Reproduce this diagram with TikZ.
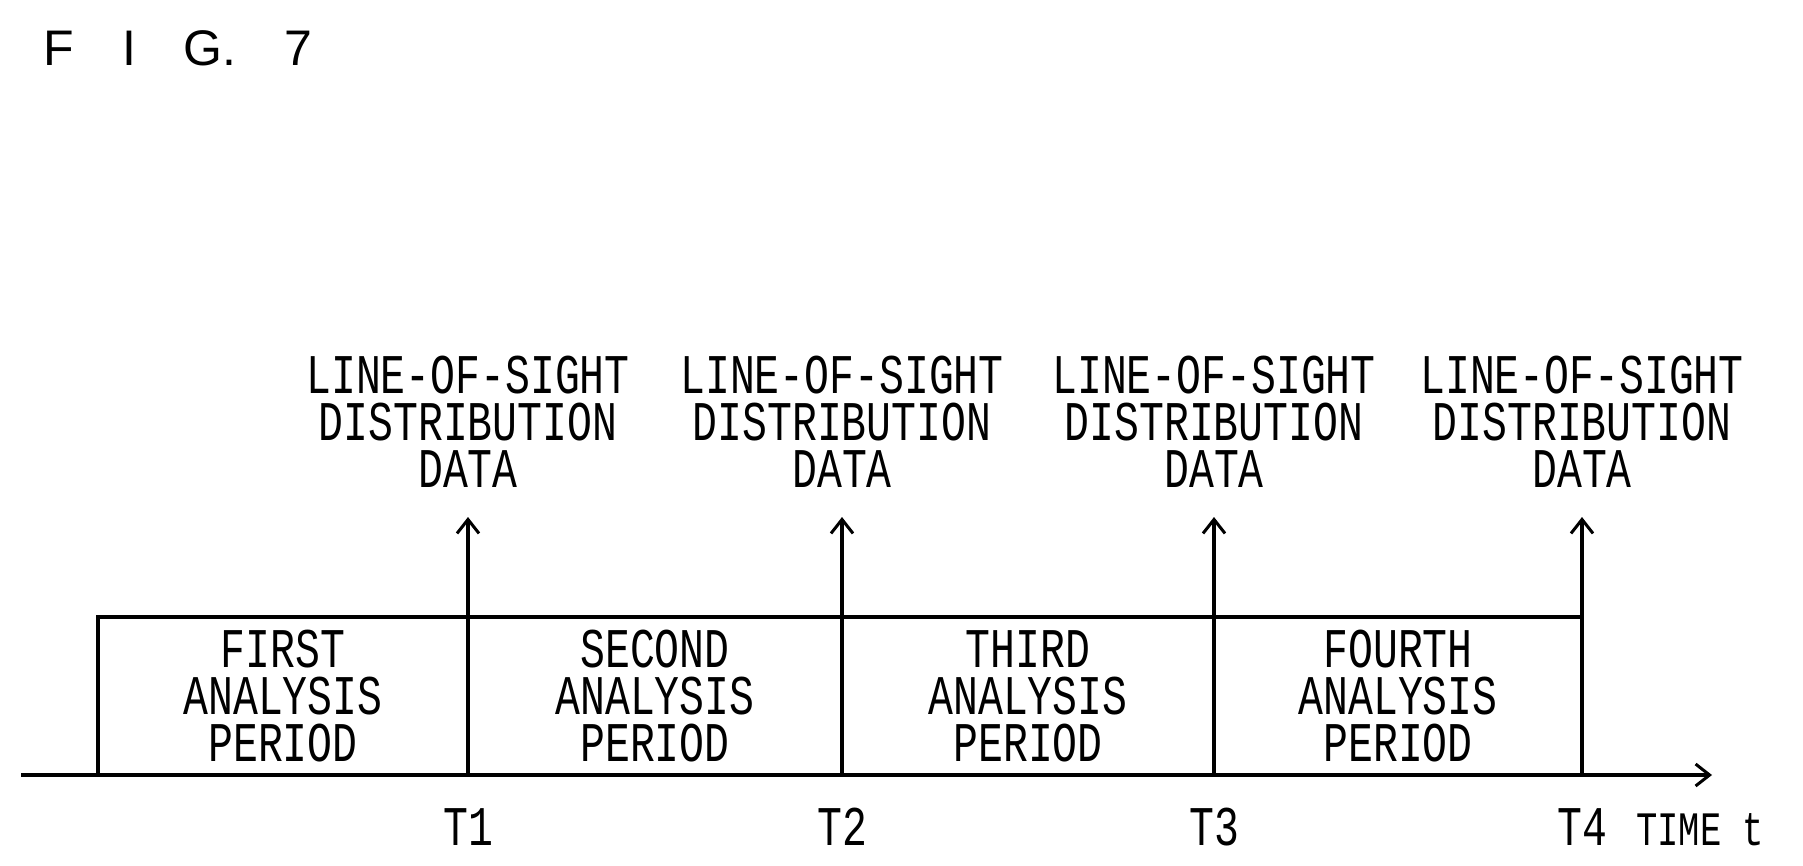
\documentclass[tikz,border=0pt]{standalone}
\usepackage{fontspec}
\usetikzlibrary{arrows.meta}
\newfontfamily\lbl[FakeStretch=0.74]{Liberation Mono}
\newfontfamily\figf{Liberation Sans}
\begin{document}
\begin{tikzpicture}[x=1pt,y=-1pt,
  ln/.style={line width=4pt},
  arr/.style={ln,-{Straight Barb[length=14pt,width=22pt,line width=3pt]}},
  txt/.style={font=\lbl\fontsize{56}{47}\selectfont,align=center,inner sep=0pt}]
\useasboundingbox (0,0) rectangle (1803,865);
\node[font=\figf\fontsize{50}{50}\selectfont,anchor=west] (fig) at (40,48) {F\hspace{48pt}I\hspace{48pt}G.\hspace{48pt}7};
\coordinate (a0) at (21,775);
\coordinate (aend) at (1712,775);
\draw[arr] (a0) -- (aend);
\coordinate (bl) at (98,775);
\coordinate (tl) at (98,617);
\coordinate (tr) at (1580,617);
\draw[ln] (bl) -- (tl) -- (tr);
\foreach \i/\x in {1/468,2/842,3/1214,4/1582}{
  \coordinate (b\i) at (\x,775);
  \coordinate (h\i) at (\x,517);
  \draw[arr] (b\i) -- (h\i);
  \node[txt,anchor=north] (d\i) at (\x,356) {LINE-OF-SIGHT\\DISTRIBUTION\\DATA};
  \node[txt,anchor=base] (t\i) at (\x,845) {T\i};
}
\node[txt,anchor=north] (p1) at (283,630) {FIRST\\ANALYSIS\\PERIOD};
\node[txt,anchor=north] (p2) at (655,630) {SECOND\\ANALYSIS\\PERIOD};
\node[txt,anchor=north] (p3) at (1028,630) {THIRD\\ANALYSIS\\PERIOD};
\node[txt,anchor=north] (p4) at (1398,630) {FOURTH\\ANALYSIS\\PERIOD};
\node[txt,anchor=base west,font=\lbl\fontsize{48}{48}\selectfont] (tm) at (1636,845) {TIME t};
\end{tikzpicture}
\end{document}
